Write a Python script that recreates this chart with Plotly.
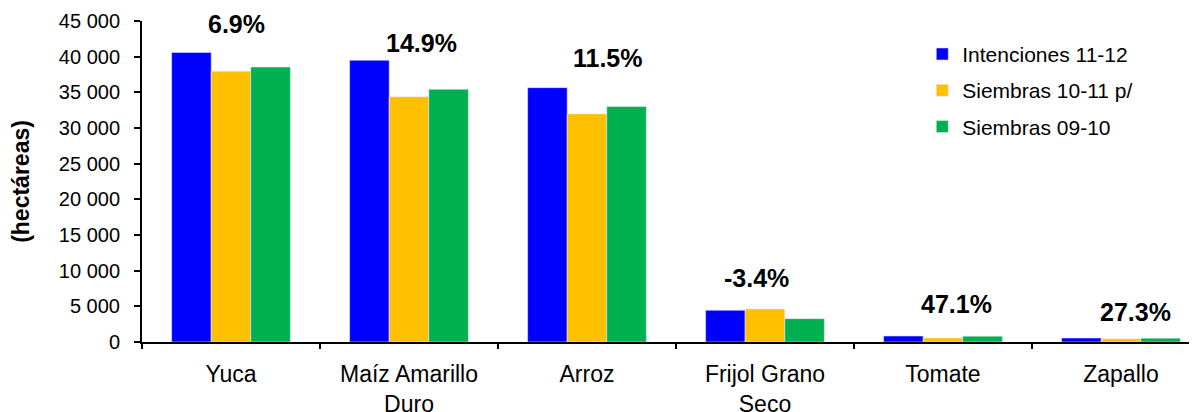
import plotly.graph_objects as go

categories = ["Yuca", "Maíz Amarillo<br>Duro", "Arroz", "Frijol Grano<br>Seco", "Tomate", "Zapallo"]
intenciones_11_12 = [40600, 39500, 35660, 4450, 840, 560]
siembras_10_11 = [37950, 34380, 31980, 4610, 571, 440]
siembras_09_10 = [38550, 35430, 33000, 3270, 820, 540]
variacion_labels = ["6.9%", "14.9%", "11.5%", "-3.4%", "47.1%", "27.3%"]
y_ticks = [0, 5000, 10000, 15000, 20000, 25000, 30000, 35000, 40000, 45000]

series = [
    ("Intenciones 11-12", intenciones_11_12, "#0000FF"),
    ("Siembras 10-11 p/", siembras_10_11, "#FFC000"),
    ("Siembras 09-10", siembras_09_10, "#00B050"),
]

FONT = "Liberation Sans, Arial, sans-serif"

fig = go.Figure()
for i, (name, vals, col) in enumerate(series):
    fig.add_trace(go.Bar(
        x=categories, y=vals, name=name, legendgroup=f"g{i}",
        marker=dict(color=col, line=dict(width=0.8, color="rgba(230,230,255,0.7)")),
    ))

# label anchor positions (category-index offset, y value) for the percentage annotations
label_dx = [0.032, 0.071, 0.118, -0.045, 0.077, 0.079]
label_y = [44650, 41980, 39880, 8990, 5340, 4210]
for i, txt in enumerate(variacion_labels):
    fig.add_annotation(
        x=i + label_dx[i], y=label_y[i], xref="x", yref="y", text=f"<b>{txt}</b>",
        showarrow=False, font=dict(family=FONT, size=25, color="black"),
        xanchor="center", yanchor="middle",
    )

fig.update_layout(
    width=1189, height=404,
    margin=dict(l=134, r=2, t=13, b=70),
    paper_bgcolor="white", plot_bgcolor="white",
    barmode="group", bargap=0.333, bargroupgap=0,
    separators=". ",
    font=dict(family=FONT, color="black"),
    legend=dict(
        x=0.741, y=0.96, xanchor="left", yanchor="top",
        font=dict(family=FONT, size=21, color="black"),
        traceorder="grouped", tracegroupgap=6,
        bgcolor="rgba(0,0,0,0)",
    ),
    showlegend=True,
)
fig.update_xaxes(
    range=[-0.5, 5.416], showline=True, linecolor="black", linewidth=2,
    ticks="outside", tickson="boundaries", ticklen=5, tickcolor="black", tickwidth=1.5,
    tickfont=dict(family=FONT, size=23, color="black"), ticklabelstandoff=10,
    showgrid=False, zeroline=False, automargin=False,
)
fig.update_yaxes(
    range=[0, 45000], tickvals=y_ticks, tickformat=",d",
    showline=True, linecolor="black", linewidth=2,
    ticks="outside", ticklen=6, tickcolor="black", tickwidth=1.5,
    tickfont=dict(family=FONT, size=20, color="black"), ticklabelstandoff=10,
    showgrid=False, zeroline=False, automargin=False,
    title=dict(text="<b>(hectáreas)</b>", font=dict(family=FONT, size=23, color="black"), standoff=27),
)

fig.write_html("out.html")
